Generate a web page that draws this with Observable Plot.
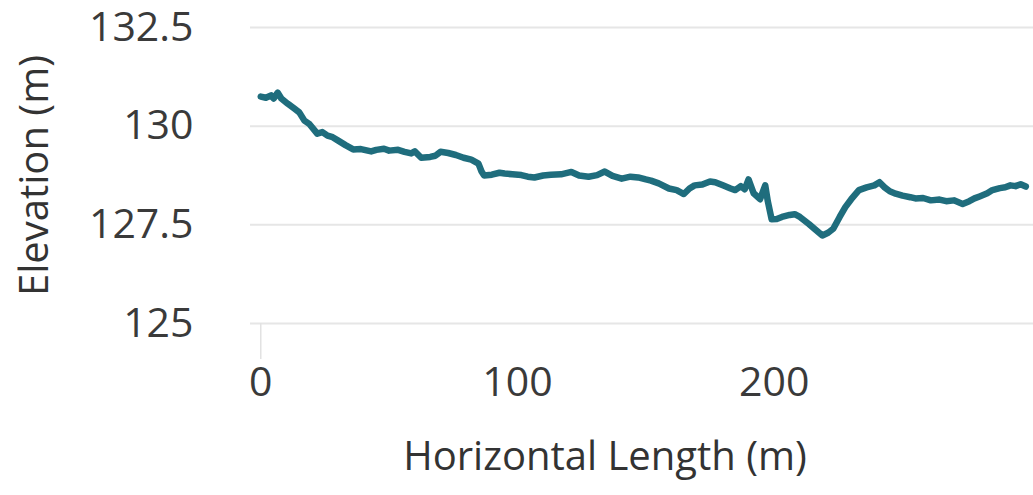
<!DOCTYPE html>
<html>
<head>
<meta charset="utf-8">
<script src="https://cdn.jsdelivr.net/npm/d3@7"></script>
<script src="https://cdn.jsdelivr.net/npm/@observablehq/plot@0.6"></script>
<style>
  html, body { margin: 0; padding: 0; background: #fff; }
  #chart { width: 1033px; height: 495px; }
</style>
</head>
<body>
<div id="chart"></div>
<script>
// Horizontal distance (m)
const distance = [0, 2, 4, 5, 6.6, 8, 10.5, 13, 15, 17, 19, 22, 24, 26, 28, 30, 33, 36, 39, 43, 45, 48, 50, 53.5, 56, 58.6, 60, 62.5, 66, 68, 70, 73, 76, 79, 82, 84.8, 86, 87, 90, 93, 95, 98, 101.5, 104, 106.6, 110, 113, 117, 121, 124, 127.7, 131, 134, 137, 140.6, 144, 147, 150, 152, 155, 159, 162, 164.8, 167, 169, 172, 175, 177, 180, 183, 184.8, 187, 188.5, 190, 192, 194.5, 196.5, 197.5, 199, 201, 203, 206, 208, 210, 213.5, 216, 218.75, 221, 223, 225.5, 227.7, 230, 233, 236, 239, 241, 243, 245, 247.3, 250, 253, 255, 258, 261, 264.4, 267, 270, 273.4, 276, 278, 280, 283, 285, 287.9, 290, 292, 294, 296, 298];
// Elevation (m)
const elevation = [130.75, 130.72, 130.78, 130.7, 130.85, 130.7, 130.57, 130.45, 130.35, 130.14, 130.05, 129.81, 129.85, 129.76, 129.72, 129.64, 129.52, 129.41, 129.42, 129.36, 129.4, 129.43, 129.38, 129.4, 129.35, 129.31, 129.36, 129.2, 129.22, 129.25, 129.35, 129.32, 129.27, 129.2, 129.15, 129.05, 128.85, 128.75, 128.77, 128.82, 128.8, 128.78, 128.76, 128.72, 128.7, 128.75, 128.77, 128.78, 128.84, 128.75, 128.72, 128.76, 128.85, 128.74, 128.67, 128.72, 128.7, 128.65, 128.62, 128.55, 128.42, 128.38, 128.28, 128.42, 128.5, 128.52, 128.6, 128.58, 128.5, 128.42, 128.38, 128.48, 128.4, 128.65, 128.3, 128.15, 128.5, 128.1, 127.64, 127.65, 127.7, 127.75, 127.77, 127.7, 127.52, 127.38, 127.23, 127.3, 127.4, 127.7, 127.95, 128.15, 128.38, 128.45, 128.5, 128.58, 128.45, 128.35, 128.29, 128.24, 128.2, 128.17, 128.18, 128.12, 128.14, 128.1, 128.12, 128.03, 128.1, 128.17, 128.22, 128.3, 128.38, 128.43, 128.45, 128.5, 128.48, 128.53, 128.47];

const yTicks = [125, 127.5, 130, 132.5];
const xTicks = [0, 100, 200];
const xTitle = "Horizontal Length (m)";
const yTitle = "Elevation (m)";

const data = distance.map((d, i) => ({distance: d, elevation: elevation[i]}));
const font = "'Open Sans', 'Noto Sans', sans-serif";

const chart = Plot.plot({
  width: 1033,
  height: 495,
  marginLeft: 250,
  marginRight: 0,
  marginTop: 27,
  marginBottom: 172,
  style: {fontFamily: font, background: "#fff", color: "#333", overflow: "visible"},
  x: {domain: [-4, 301]},
  y: {domain: [125, 132.5]},
  marks: [
    Plot.ruleY(yTicks, {stroke: "#e6e6e6", strokeWidth: 2}),
    Plot.axisX({ticks: [0], tickSize: 36, stroke: "#e2e2e2", strokeWidth: 1.5, tickFormat: () => "", label: null}),
    Plot.axisX({ticks: xTicks, tickSize: 0, tickPadding: 43, fontSize: 41, fill: "#3a3a3a", label: null}),
    Plot.axisY({ticks: yTicks, tickSize: 0, tickPadding: 57, fontSize: 41, fill: "#3a3a3a", label: null, tickFormat: d => String(d)}),
    Plot.line(data, {x: "distance", y: "elevation", stroke: "#1f6d7d", strokeWidth: 6.5, strokeLinejoin: "round", strokeLinecap: "round"}),
    Plot.text([xTitle], {frameAnchor: "bottom", dx: -37, dy: 134, fontSize: 40, fill: "#333", lineAnchor: "middle", text: d => d}),
    Plot.text([yTitle], {frameAnchor: "left", dx: -215, dy: 0, rotate: -90, fontSize: 40, fill: "#333", textAnchor: "middle", lineAnchor: "middle", text: d => d})
  ]
});
document.getElementById("chart").appendChild(chart);
</script>
</body>
</html>
